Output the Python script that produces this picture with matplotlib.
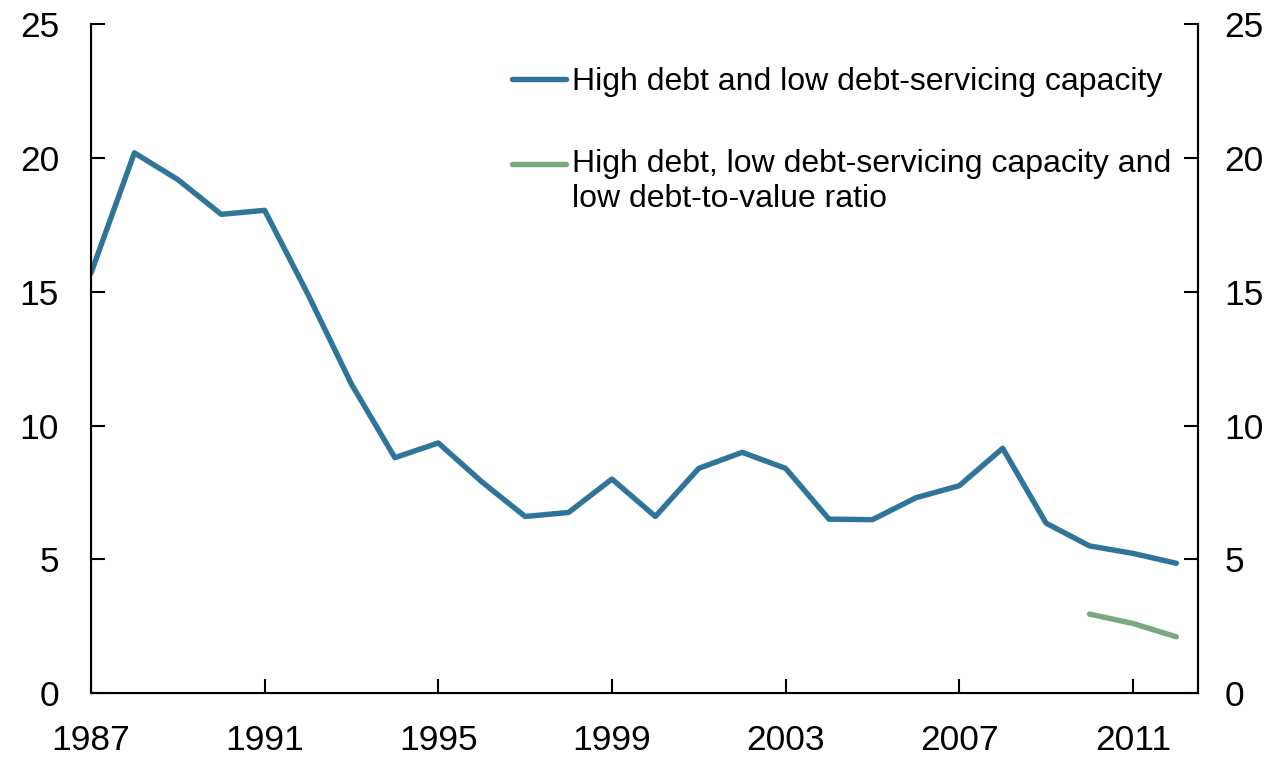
import matplotlib
matplotlib.use("Agg")
import matplotlib.pyplot as plt
from matplotlib.legend_handler import HandlerLine2D

plt.rcParams['font.family'] = ['Liberation Sans', 'DejaVu Sans']

years = list(range(1987, 2013))
high_debt = [15.7, 20.2, 19.2, 17.9, 18.05, 14.9, 11.55, 8.8, 9.35, 7.9,
             6.6, 6.75, 8.0, 6.6, 8.4, 9.0, 8.4, 6.5, 6.48, 7.3,
             7.75, 9.15, 6.35, 5.5, 5.22, 4.85]
years_ltv = [2010, 2011, 2012]
high_debt_ltv = [2.95, 2.6, 2.1]

label_a = "High debt and low debt-servicing capacity"
label_b = "High debt, low debt-servicing capacity and\nlow debt-to-value ratio"

blue = "#2e7599"
green = "#78a981"


class FirstLineHandler(HandlerLine2D):
    # put the legend line level with the first line of a two-line label
    def __init__(self, shift=0, **kw):
        super().__init__(**kw)
        self.shift = shift

    def create_artists(self, legend, orig_handle, xdescent, ydescent,
                       width, height, fontsize, trans):
        arts = super().create_artists(legend, orig_handle, xdescent, ydescent,
                                      width, height, fontsize, trans)
        for a in arts:
            a.set_ydata([y + self.shift for y in a.get_ydata()])
        return arts


fig = plt.figure(figsize=(12.76, 7.58), dpi=100)
ax = fig.add_axes([0.0713, 0.0858, 0.9389 - 0.0713, 0.9677 - 0.0858])

ln_a, = ax.plot(years, high_debt, color=blue, lw=3.9, label=label_a,
                solid_capstyle='round', solid_joinstyle='round')
ln_b, = ax.plot(years_ltv, high_debt_ltv, color=green, lw=3.9, label=label_b,
                solid_capstyle='round', solid_joinstyle='round')

ax.set_xlim(1987, 2012.5)
ax.set_ylim(0, 25)
ax.set_xticks(range(1987, 2012, 4))
ax.set_yticks(range(0, 26, 5))

ax.spines['top'].set_visible(False)
for s in ['left', 'right', 'bottom']:
    ax.spines[s].set_linewidth(1.5)

ax.tick_params(axis='both', direction='in', length=10, width=1.5, labelsize=25.5)
ax.tick_params(axis='y', pad=23)
ax.tick_params(axis='x', pad=22)

# right-hand axis, same scale
ax2 = ax.twinx()
ax2.set_ylim(ax.get_ylim())
ax2.set_yticks(range(0, 26, 5))
ax2.spines['top'].set_visible(False)
ax2.spines['right'].set_linewidth(1.5)
ax2.tick_params(axis='y', direction='in', length=10, width=1.5,
                labelsize=25.5, pad=19)

leg = ax.legend(loc='upper left', bbox_to_anchor=(0.3685, 0.955), frameon=False,
                fontsize=23, handlelength=1.7, handletextpad=0.2,
                labelspacing=1.62, borderaxespad=0,
                handler_map={ln_b: FirstLineHandler(shift=12.6)})

fig.savefig("out.png", dpi=100)
